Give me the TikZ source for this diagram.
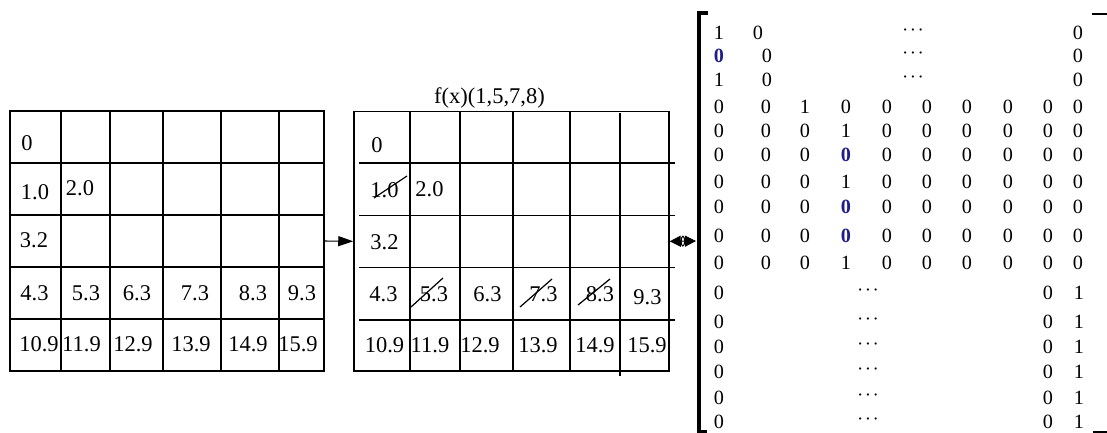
\documentclass[tikz,border=0pt]{standalone}
\usepackage{fontspec}
\setmainfont{Liberation Serif}
\usepackage{xcolor}
\usepackage{tikz}
\usetikzlibrary{arrows.meta,calc}
\definecolor{zeroblue}{RGB}{30,30,140}
\newcommand{\bz}{{\color{zeroblue}\bfseries 0}}
\def\mcols{{719,766,805,846,887,927,967,1008,1048,1078}}

\begin{document}
\begin{tikzpicture}[x=0.02cm,y=-0.02cm,line width=0.9pt,
 grid/.style={draw,line width=0.9pt,inner sep=0pt,minimum height=5.2cm},
 cell/.style={inner sep=0pt,font=\fontsize{12.8}{14}\selectfont},
 ment/.style={inner sep=0pt,font=\fontsize{11.5}{13}\selectfont},
 dots/.style={inner sep=0pt,font=\fontsize{8.5}{9}\selectfont\boldmath},
 strike/.style={line width=0.7pt},
 link/.style={line width=0.6pt}]
\useasboundingbox (0,0) rectangle (1107,433);
% Original partition table.
\node[grid,minimum width=6.28cm] (tabA) at (167,241) {};
\foreach \x in {61,110,163,221,279} \draw (\x,111) -- (\x,371);
\foreach \y in {163,215,267,319} \draw (10,\y) -- (324,\y);
\foreach \x/\y/\t [count=\i] in {27/143/0,35/192/1.0,80/188/2.0,34/240/3.2,
  34.5/293/4.3,86/293/5.3,137/293/6.3,195/293/7.3,253/293/8.3,302/293/9.3,
  39/344/10.9,81.5/344/11.9,133/344/12.9,191/344/13.9,248/344/14.9,298/344/15.9}
  \node[cell] (a\i) at (\x,\y) {\t};

% Table after applying f(x), with the removed entries struck out.
\node[grid,minimum width=6.3cm] (tabB) at (511.5,241.3) {};
\foreach \x in {410,460,513,570} \draw (\x,111.3) -- (\x,371.3);
\draw (620,113) -- (620,376);
\foreach \y in {163,215.5,267.5,320} \draw (359,\y) -- (675,\y);
\node[cell] (ftitle) at (489.5,98) {f(x)(1,5,7,8)};
\foreach \x/\y/\t [count=\i] in {377/145/0,384.5/190/1.0,429.5/189/2.0,384.5/242/3.2,
  383.5/294/4.3,434/294/5.3,487.5/294/6.3,543.5/294/7.3,600/294/8.3,647.5/297/9.3,
  384.5/345/10.9,430/345/11.9,480/345/12.9,538/345/13.9,595/345/14.9,647/345/15.9}
  \node[cell] (b\i) at (\x,\y) {\t};
\foreach \xa/\ya/\xb/\yb in {374/198/407/176,411/307/443/278,
  520/307/552/279,578/305/610/279}
  \draw[strike] (\xa,\ya) -- (\xb,\yb);

% Arrows between the stages.
\draw[link,-{Triangle[length=0.3cm,width=0.2cm]}] (tabA.east) -- (tabB.west);
\coordinate (brk) at (696,241);
\draw[link,{Triangle[length=0.22cm,width=0.22cm]}-{Triangle[length=0.22cm,width=0.22cm]}]
  (tabB.east) -- (brk);
\draw[line width=0.6pt] ($(tabB.east)!0.5!(brk)$) ellipse [x radius=1pt,y radius=2.8pt];

% Indicator matrix and its brackets.
\draw[line width=2.3pt] (708,13) -- (699,13) -- (699,432) -- (707,432);
\draw[line width=1.6pt] (1092,14) -- (1107,14);
\draw[line width=1.2pt] (1093,432) -- (1107,432);
\foreach \r/\y/\a/\bx in {1/33/1/758,2/56/\bz/767,3/80/1/767}{
  \node[ment] (m\r-1) at (719,\y) {\a};
  \node[ment] (m\r-2) at (\bx,\y) {0};
  \node[dots] (m\r-d) at (913,\y-3) {$\cdots$};
  \node[ment] (m\r-10) at (1078,\y) {0};
}
\foreach \r/\y/\row in {4/107/{0,0,1,0,0,0,0,0,0,0},5/131/{0,0,0,1,0,0,0,0,0,0},
  6/155/{0,0,0,\bz,0,0,0,0,0,0},7/182/{0,0,0,1,0,0,0,0,0,0},
  8/207/{0,0,0,\bz,0,0,0,0,0,0},9/236/{0,0,0,\bz,0,0,0,0,0,0},
  10/263/{0,0,0,1,0,0,0,0,0,0}}
  \foreach \e [count=\c] in \row {
    \pgfmathsetmacro{\x}{\mcols[\c-1]}
    \node[ment] (m\r-\c) at (\x,\y) {\e};
  }
\foreach \r/\y in {11/293,12/322,13/347,14/372,15/398,16/422}{
  \node[ment] (m\r-1) at (719,\y) {0};
  \node[dots] (m\r-d) at (868,\y-3) {$\cdots$};
  \node[ment] (m\r-9) at (1048,\y) {0};
  \node[ment] (m\r-10) at (1079,\y) {1};
}
\end{tikzpicture}
\end{document}
